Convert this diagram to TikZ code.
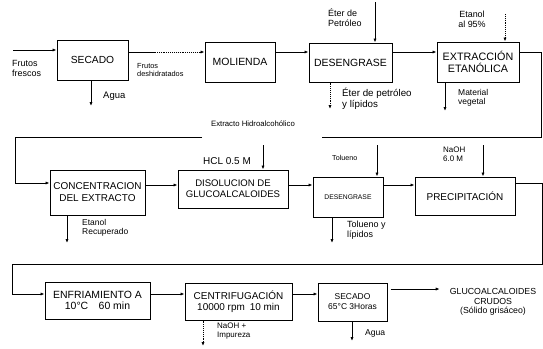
\documentclass[tikz,border=0pt]{standalone}
\usepackage{fontspec}
\setmainfont{Liberation Sans}
\usetikzlibrary{arrows.meta}
\newcommand{\fs}[1]{\fontsize{#1}{#1}\selectfont}
\tikzset{
  box/.style={draw, line width=1pt, inner sep=1pt, align=center, font=\fs{10}},
  lbl/.style={inner sep=0pt, align=left, font=\fs{8.5}, text depth=0pt},
  conn/.style={line width=0.9pt},
  arr/.style={conn, -{Latex[length=4pt,width=3.2pt]}},
  darr/.style={arr, densely dotted}
}
\begin{document}
\begin{tikzpicture}[x=1bp,y=-1bp]
\useasboundingbox[fill=white] (0,0) rectangle (543,348);
% ---------- nodes ----------
\node[box, minimum width=71bp, minimum height=40bp, font=\fs{10.3}] (sec1) at (92.5,60) {SECADO};
\node[box, minimum width=70bp, minimum height=40bp, font=\fs{10.5}] (mol) at (240,62) {MOLIENDA};
\node[box, minimum width=83bp, minimum height=39bp, font=\fs{10.5}] (des1) at (350.5,62.5) {DESENGRASE};
\node[box, minimum width=82bp, minimum height=40bp, font=\fontsize{10.8}{11.5}\selectfont] (ext) at (478,62) {EXTRACCIÓN\\ETANÓLICA};

\node[box, minimum width=95bp, minimum height=45bp, font=\fontsize{10}{12}\selectfont] (conc) at (97.5,192.5) {CONCENTRACION\\DEL EXTRACTO};
\node[box, minimum width=110bp, minimum height=38bp, font=\fontsize{9.6}{11}\selectfont] (dis) at (233,189) {DISOLUCION DE\\GLUCOALCALOIDES};
\node[box, minimum width=70bp, minimum height=40bp, font=\fs{6.8}] (des2) at (348,197) {DESENGRASE};
\node[box, minimum width=100bp, minimum height=38bp, font=\fs{10}] (prec) at (465,196) {PRECIPITACIÓN};

\node[box, minimum width=105bp, minimum height=37bp, font=\fontsize{10.5}{11.5}\selectfont] (enf) at (97.5,300.5) {ENFRIAMIENTO A\\10°C\quad 60 min};
\node[box, minimum width=107bp, minimum height=37bp, font=\fontsize{10}{11}\selectfont] (cen) at (238.5,301.5) {CENTRIFUGACIÓN\\10000 rpm\enspace 10 min};
\node[box, minimum width=69bp, minimum height=38bp, font=\fontsize{8.5}{10}\selectfont] (sec2) at (352.5,302) {SECADO\\65°C 3Horas};
\node[inner sep=0pt, align=center, font=\fontsize{8.8}{9.8}\selectfont] (res) at (493,302) {GLUCOALCALOIDES\\CRUDOS\\(Sólido grisáceo)};

% ---------- row 1 connectors ----------
\coordinate (ff) at (13,50);
\draw[arr] (ff) -- (ff -| sec1.west);
\node[lbl, anchor=north west, font=\fontsize{9}{10}\selectfont] (tff) at (12,60) {Frutos\\frescos};

\coordinate (ag1) at (91,106);
\draw[arr] (ag1 |- sec1.south) -- (ag1);
\node[lbl, anchor=west, font=\fs{9.5}] (tag1) at (103,95) {Agua};

\coordinate (p1) at (155,52);
\draw[conn] (sec1.east |- p1) -- (p1);
\draw[darr] (p1) -- (p1 -| mol.west);
\node[lbl, anchor=north west, font=\fontsize{7.4}{8}\selectfont] (tfd) at (137,63) {Frutos\\deshidratados};

\coordinate (y52) at (0,52);
\draw[arr] (mol.east |- y52) -- (des1.west |- y52);
\draw[arr] (des1.east |- y52) -- (ext.west |- y52);

\coordinate (ep) at (375,2);
\draw[arr] (ep) -- (ep |- des1.north);
\node[lbl, anchor=north west, font=\fontsize{9}{10}\selectfont] (tep) at (328,9) {Éter de\\Petróleo};

\coordinate (el) at (330,109);
\draw[darr] (el |- des1.south) -- (el);
\node[lbl, anchor=north west, font=\fontsize{9.8}{11}\selectfont] (tel) at (342,88) {Éter de petróleo\\y lípidos};

\coordinate (et) at (505,14);
\draw[darr] (et) -- (et |- ext.north);
\node[lbl, anchor=north, align=center, font=\fontsize{9}{10}\selectfont] (tet) at (472,11) {Etanol\\al 95\%};

\coordinate (mv) at (445,111);
\draw[arr] (mv |- ext.south) -- (mv);
\node[lbl, anchor=north west, font=\fontsize{8.5}{9.5}\selectfont] (tmv) at (458,89) {Material\\vegetal};

% loop 1
\coordinate (c1) at (541,137);
\coordinate (c2) at (322,137);
\coordinate (c3) at (202,137);
\coordinate (c4) at (15,183);
\draw[conn] (ext.east |- y52) -| (c1) -- (c2);
\draw[arr] (c3) -| (c4) -- (c4 -| conc.west);
\node[lbl, font=\fs{7.8}] (tex) at (253,124) {Extracto Hidroalcohólico};

% ---------- row 2 connectors ----------
\coordinate (er) at (67,243);
\draw[arr] (er |- conc.south) -- (er);
\node[lbl, anchor=north west, font=\fontsize{8.5}{9.5}\selectfont] (ter) at (82,219) {Etanol\\Recuperado};

\coordinate (y185) at (0,185);
\draw[arr] (conc.east |- y185) -- (dis.west |- y185);
\draw[arr] (dis.east |- y185) -- (des2.west |- y185);
\draw[arr] (des2.east |- y185) -- (prec.west |- y185);

\coordinate (hc) at (263,145);
\draw[arr] (hc) -- (hc |- dis.north);
\node[lbl, anchor=west, font=\fs{10}] (thc) at (203,161) {HCL 0.5 M};

\coordinate (to) at (377,145);
\draw[arr] (to) -- (to |- des2.north);
\node[lbl, anchor=west, font=\fs{7.2}] (tto) at (332,158) {Tolueno};

\coordinate (tl) at (332,243);
\draw[arr] (tl |- des2.south) -- (tl);
\node[lbl, anchor=north west, font=\fontsize{9}{10}\selectfont] (ttl) at (347,221) {Tolueno y\\lípidos};

\coordinate (na) at (483,145);
\draw[arr] (na) -- (na |- prec.north);
\node[lbl, anchor=north west, font=\fontsize{8}{9}\selectfont] (tna) at (443,147) {NaOH\\6.0 M};

% loop 2
\coordinate (y183) at (0,183);
\coordinate (d1) at (542,264);
\coordinate (d2) at (12,294);
\draw[arr] (prec.east |- y183) -| (d1) -| (d2) -- (d2 -| enf.west);

% ---------- row 3 connectors ----------
\coordinate (y294) at (0,294);
\draw[arr] (enf.east |- y294) -- (cen.west |- y294);
\draw[arr] (cen.east |- y294) -- (sec2.west |- y294);

\coordinate (ni) at (203,346);
\draw[darr] (ni |- cen.south) -- (ni);
\node[lbl, anchor=north west, font=\fontsize{8}{9}\selectfont] (tni) at (217,323) {NaOH +\\Impureza};

\coordinate (ag2) at (352,341);
\draw[arr] (ag2 |- sec2.south) -- (ag2);
\node[lbl, anchor=west, font=\fs{8.6}] (tag2) at (365,333) {Agua};

\coordinate (y289) at (0,289);
\draw[arr, shorten <=3bp, shorten >=10bp] (sec2.east |- y289) -- (res.west |- y289);
\end{tikzpicture}
\end{document}
